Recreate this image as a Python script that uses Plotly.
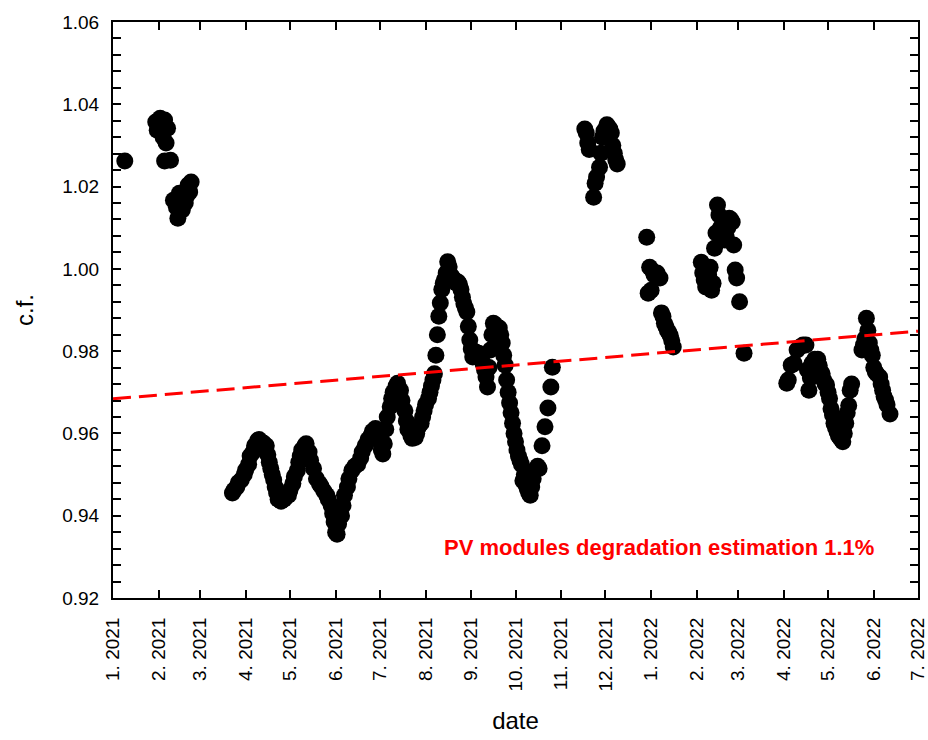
import pandas as pd
import plotly.graph_objects as go

# Correction factor (c.f.) readings, day offsets counted from 1 Jan 2021
winter21_days = [8, 29, 30, 32, 34, 35, 36, 37, 35, 39, 41, 43, 44, 45, 47, 49, 50, 51, 52, 53]
winter21_cf = [1.0262, 1.0357, 1.0337, 1.0366, 1.0320, 1.0362, 1.0306, 1.0342, 1.0262, 1.0264,
               1.0167, 1.0150, 1.0123, 1.0184, 1.0143, 1.0160, 1.0177, 1.0204, 1.0187, 1.0211]

summer21_days = [81, 82, 84, 85, 87, 89, 90, 92, 93, 95, 96, 98, 99, 100, 102, 104, 105, 106, 107, 108,
                 109, 110, 111, 112, 114, 116, 117, 119, 120, 122, 123, 125, 126, 127, 128, 130, 131, 133,
                 134, 136, 138, 140, 141, 143, 145, 146, 148, 149, 150, 151, 152, 153, 155, 156, 157, 159,
                 160, 162, 164, 166, 168, 169, 171, 173, 175, 176, 178, 180, 181, 182, 183, 184, 185, 186,
                 188, 189, 190, 192, 193, 195, 196, 198, 199, 200, 202, 203, 205, 206, 207, 209, 210, 211,
                 212, 214, 215, 216, 217]
summer21_cf = [0.9455, 0.9462, 0.9470, 0.9480, 0.9487, 0.9500, 0.9511, 0.9525, 0.9545, 0.9555, 0.9570,
               0.9582, 0.9585, 0.9580, 0.9577, 0.9570, 0.9548, 0.9530, 0.9515, 0.9500, 0.9487, 0.9470,
               0.9455, 0.9440, 0.9435, 0.9440, 0.9445, 0.9450, 0.9462, 0.9478, 0.9495, 0.9510, 0.9530,
               0.9545, 0.9560, 0.9570, 0.9575, 0.9555, 0.9535, 0.9515, 0.9490, 0.9478, 0.9472, 0.9460,
               0.9450, 0.9440, 0.9425, 0.9405, 0.9385, 0.9360, 0.9355, 0.9380, 0.9400, 0.9425, 0.9450,
               0.9470, 0.9490, 0.9510, 0.9520, 0.9525, 0.9540, 0.9555, 0.9570, 0.9585, 0.9595, 0.9605,
               0.9612, 0.9600, 0.9580, 0.9560, 0.9550, 0.9575, 0.9610, 0.9640, 0.9665, 0.9685, 0.9700,
               0.9715, 0.9722, 0.9705, 0.9680, 0.9655, 0.9630, 0.9610, 0.9595, 0.9588, 0.9590, 0.9600,
               0.9615, 0.9625, 0.9640, 0.9655, 0.9670, 0.9685, 0.9700, 0.9715, 0.9730]

autumn21_days = [218, 219, 220, 221, 222, 223, 224, 225, 226, 227, 228, 229, 230, 231, 232, 233, 234, 235,
                 236, 237, 238, 239, 240, 241, 242, 243, 244, 245, 246, 247, 248, 249, 250, 251, 252, 253,
                 254, 255, 256, 257, 258, 259, 260, 262, 263, 264, 265, 266, 267, 268, 269, 270, 271, 272,
                 273, 274, 275, 276, 277, 278, 279, 280, 281, 282, 283, 284, 285, 286, 288, 289, 291, 293,
                 295, 297, 298]
autumn21_cf = [0.9745, 0.9790, 0.9840, 0.9885, 0.9917, 0.9950, 0.9965, 0.9975, 0.9990, 1.0017, 1.0005,
               0.9985, 0.9980, 0.9975, 0.9970, 0.9965, 0.9968, 0.9962, 0.9950, 0.9931, 0.9915, 0.9905,
               0.9895, 0.9860, 0.9827, 0.9805, 0.9786, 0.9795, 0.9798, 0.9790, 0.9795, 0.9790, 0.9785,
               0.9770, 0.9755, 0.9737, 0.9713, 0.9760, 0.9803, 0.9840, 0.9868, 0.9865, 0.9860, 0.9856,
               0.9840, 0.9820, 0.9790, 0.9766, 0.9730, 0.9700, 0.9674, 0.9650, 0.9625, 0.9600, 0.9580,
               0.9560, 0.9545, 0.9535, 0.9525, 0.9485, 0.9500, 0.9475, 0.9465, 0.9455, 0.9450, 0.9470,
               0.9490, 0.9510, 0.9520, 0.9515, 0.9570, 0.9616, 0.9662, 0.9713, 0.9761]

winter22_days = [320, 321, 322, 323, 326, 327, 328, 330, 331, 332, 333, 335, 336, 337, 338, 339, 340, 341,
                 342, 362, 363, 364, 365, 366, 367, 369, 371, 372, 373, 374, 375, 376, 377, 378, 379, 380,
                 399, 400, 401, 402, 403, 404, 405, 406, 407, 408, 409, 410, 411, 412, 413, 414, 415, 416,
                 417, 418, 419, 420, 421, 422, 423, 425, 428]
winter22_cf = [1.0340, 1.0330, 1.0306, 1.0290, 1.0174, 1.0208, 1.0223, 1.0247, 1.0281, 1.0320, 1.0335,
               1.0350, 1.0345, 1.0340, 1.0330, 1.0300, 1.0281, 1.0265, 1.0255, 1.0077, 0.9941, 1.0004,
               0.9948, 0.9995, 0.9985, 0.9990, 0.9978, 0.9893, 0.9885, 0.9868, 0.9860, 0.9851, 0.9845,
               0.9838, 0.9825, 0.9810, 1.0016, 0.9990, 0.9973, 0.9956, 0.9956, 0.9985, 1.0004, 0.9948,
               0.9965, 1.0050, 1.0087, 1.0155, 1.0131, 1.0100, 1.0090, 1.0085, 1.0070, 1.0077, 1.0100,
               1.0123, 1.0120, 1.0114, 1.0058, 0.9997, 0.9978, 0.9920, 0.9795]

spring22_days = [457, 458, 460, 462, 464, 466, 468, 470, 471, 472, 473, 474, 476, 478, 479, 480, 481, 482,
                 483, 484, 485, 486, 487, 488, 489, 490, 491, 492, 493, 494, 495, 496, 497, 498, 499, 500,
                 501, 508, 509, 510, 511, 512, 513, 514, 515, 516, 517, 518, 520, 521, 522, 523, 524, 525,
                 527]
spring22_cf = [0.9722, 0.9730, 0.9766, 0.9770, 0.9803, 0.9810, 0.9815, 0.9815, 0.9754, 0.9705, 0.9735,
               0.9770, 0.9780, 0.9780, 0.9765, 0.9750, 0.9745, 0.9730, 0.9720, 0.9718, 0.9700, 0.9685,
               0.9660, 0.9645, 0.9625, 0.9615, 0.9605, 0.9595, 0.9590, 0.9585, 0.9580, 0.9600, 0.9625,
               0.9650, 0.9668, 0.9705, 0.9720, 0.9803, 0.9815, 0.9830, 0.9880, 0.9850, 0.9820, 0.9803,
               0.9790, 0.9760, 0.9750, 0.9745, 0.9737, 0.9720, 0.9705, 0.9690, 0.9681, 0.9670, 0.9647]

# Linear trend: start level and yearly rise of the correction factor (1.1 % per year)
trend_start_cf = 0.9684
degradation_per_year = 0.011

start = pd.Timestamp("2021-01-01")
end = pd.Timestamp("2022-07-01")
month_ticks = pd.date_range(start, end, freq="MS")
month_labels = [f"{d.month}. {d.year}" for d in month_ticks]

all_days = winter21_days + summer21_days + autumn21_days + winter22_days + spring22_days
all_cf = winter21_cf + summer21_cf + autumn21_cf + winter22_cf + spring22_cf
dates = [start + pd.Timedelta(days=d) for d in all_days]

span_years = (end - start).days / 365.0
trend_x = [start, end]
trend_y = [trend_start_cf, trend_start_cf + degradation_per_year * span_years]

FONT = "Arial, Liberation Sans, sans-serif"

fig = go.Figure()
fig.add_trace(go.Scatter(
    x=dates, y=all_cf, mode="markers",
    marker=dict(color="black", size=17, line=dict(width=0)),
    showlegend=False,
))
fig.add_trace(go.Scatter(
    x=trend_x, y=trend_y, mode="lines",
    line=dict(color="#ff0000", width=3, dash="18px,8px"),
    showlegend=False,
))

axis_common = dict(
    showline=True, linecolor="black", linewidth=2, mirror="allticks",
    ticks="inside", ticklen=8, tickwidth=1.5, tickcolor="black",
    showgrid=False, zeroline=False, automargin=False,
    ticklabeloverflow="allow",
    tickfont=dict(family=FONT, size=19, color="black"),
)

fig.update_xaxes(
    **axis_common,
    range=[start, end],
    tickmode="array", tickvals=list(month_ticks), ticktext=month_labels,
    tickangle=-90, ticklabelstandoff=10,
    title=dict(text="date", font=dict(family=FONT, size=24, color="black"), standoff=22),
)
fig.update_yaxes(
    **axis_common,
    range=[0.92, 1.06],
    tickmode="linear", tick0=0.92, dtick=0.02, tickformat=".2f",
    ticklabelstandoff=8,
    minor=dict(dtick=0.004, ticks="inside", ticklen=8, tickwidth=1.5, tickcolor="black"),
    title=dict(text="c.f.", font=dict(family=FONT, size=24, color="black"), standoff=22),
)

fig.add_annotation(
    x=0.678, y=0.088, xref="paper", yref="paper", xanchor="center", yanchor="middle",
    text="<b>PV modules degradation estimation 1.1%</b>",
    showarrow=False, font=dict(family=FONT, size=22, color="#ff0000"),
)

fig.update_layout(
    width=928, height=740,
    margin=dict(l=113, r=10, t=22, b=142),
    paper_bgcolor="white", plot_bgcolor="white",
)

fig.write_html("out.html")
